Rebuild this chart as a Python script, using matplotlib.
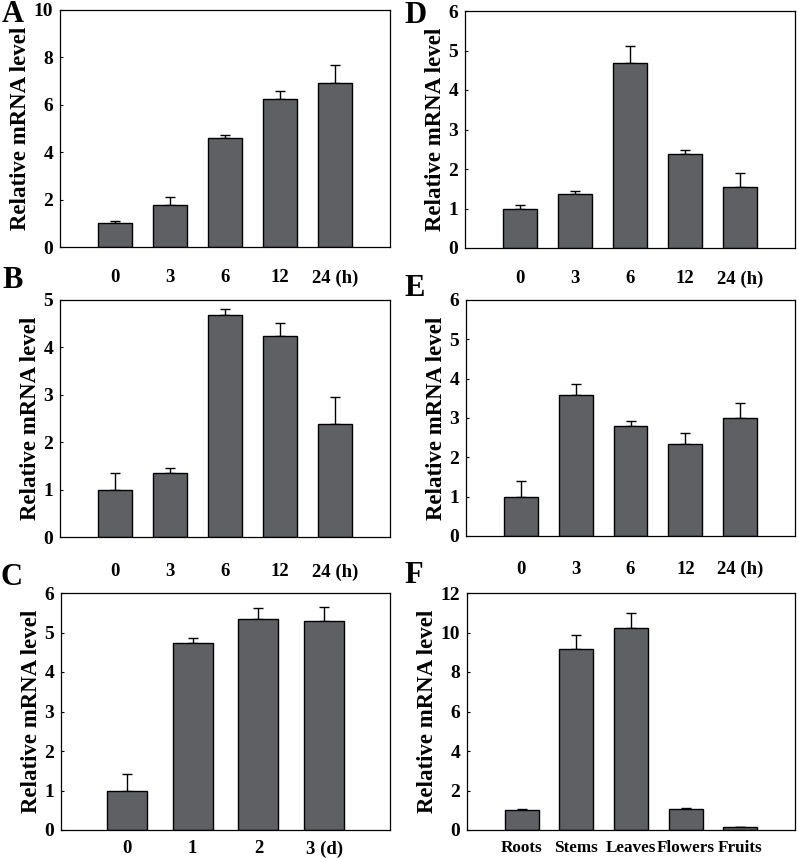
import matplotlib
matplotlib.use("Agg")
import matplotlib.pyplot as plt
import numpy as np

plt.rcParams['font.family'] = ['Liberation Serif', 'DejaVu Serif']
plt.rcParams['font.weight'] = 'bold'

# ---- data ----
labels_h = ["0", "3", "6", "12", "24 (h)"]
labels_d = ["0", "1", "2", "3 (d)"]
labels_tissue = ["Roots", "Stems", "Leaves", "Flowers", "Fruits"]

vals_A = [1.0, 1.76, 4.61, 6.24, 6.92]
err_A = [0.10, 0.35, 0.12, 0.34, 0.77]
vals_B = [1.0, 1.36, 4.69, 4.23, 2.38]
err_B = [0.34, 0.09, 0.11, 0.29, 0.58]
vals_C = [1.0, 4.74, 5.33, 5.28]
err_C = [0.42, 0.11, 0.29, 0.37]
vals_D = [1.0, 1.37, 4.68, 2.38, 1.55]
err_D = [0.09, 0.08, 0.43, 0.11, 0.36]
vals_E = [1.0, 3.58, 2.80, 2.35, 3.0]
err_E = [0.39, 0.29, 0.12, 0.28, 0.37]
vals_F = [1.0, 9.15, 10.23, 1.05, 0.13]
err_F = [0.08, 0.73, 0.77, 0.06, 0.0]

ylims = {"A": (10, 2), "B": (5, 1), "C": (6, 1), "D": (6, 1), "E": (6, 1), "F": (12, 2)}

W, H = 799, 858
fig = plt.figure(figsize=(W / 100, H / 100), dpi=100)

def px_axes(left, top, right, bottom):
    return fig.add_axes([left / W, 1 - bottom / H, (right - left) / W, (bottom - top) / H])

# name, axes box (px), labels, values, errors, letter pos (px), x tick pad, x tick size
panels = [
    ("A", (60, 10, 390, 247), labels_h, vals_A, err_A, (2, 22), 16, 13.5),
    ("B", (60, 300, 390, 537), labels_h, vals_B, err_B, (2, 288), 19, 13.5),
    ("C", (61, 593, 390, 830), labels_d, vals_C, err_C, (0, 585), 7.5, 13.5),
    ("D", (465, 11, 795, 248), labels_h, vals_D, err_D, (404, 23), 16, 13.5),
    ("E", (466, 300, 795, 536), labels_h, vals_E, err_E, (404, 296), 18, 13.5),
    ("F", (467, 593, 795, 830), labels_tissue, vals_F, err_F, (404, 583), 7.0, 12.3),
]

bar_color = "#5f6064"

for name, box, labels, vals, errs, lpos, xpad, xsize in panels:
    ax = px_axes(*box)
    n = len(vals)
    x = np.arange(n)
    width = 0.62 if n == 5 else 0.61
    ax.bar(x, vals, width=width, color=bar_color, edgecolor="black", linewidth=1.0, zorder=2)
    ax.errorbar(x, vals, yerr=[np.zeros(n), errs], fmt="none", ecolor="black",
                elinewidth=1.0, capsize=3.5, capthick=1.0, zorder=1)
    ymax, step = ylims[name]
    ax.set_ylim(0, ymax)
    ax.set_yticks(np.arange(0, ymax + 0.001, step))
    ax.set_xlim(-1.0, n)
    ax.set_xticks(x)
    ax.set_xticklabels(labels, fontsize=xsize, fontweight="bold")
    ax.tick_params(axis="x", length=0, pad=xpad)
    ax.tick_params(axis="y", direction="in", length=2.5, width=0.8, labelsize=14, pad=5)
    for t in ax.get_yticklabels():
        t.set_fontweight("bold")
    for s in ax.spines.values():
        s.set_linewidth(0.9)
    ax.set_ylabel("Relative mRNA level", fontsize=16.5, fontweight="bold", labelpad=1.5)
    fig.text(lpos[0] / W, 1 - lpos[1] / H, name, fontsize=22, fontweight="bold",
             ha="left", va="baseline")

fig.savefig("out.png", dpi=100)
